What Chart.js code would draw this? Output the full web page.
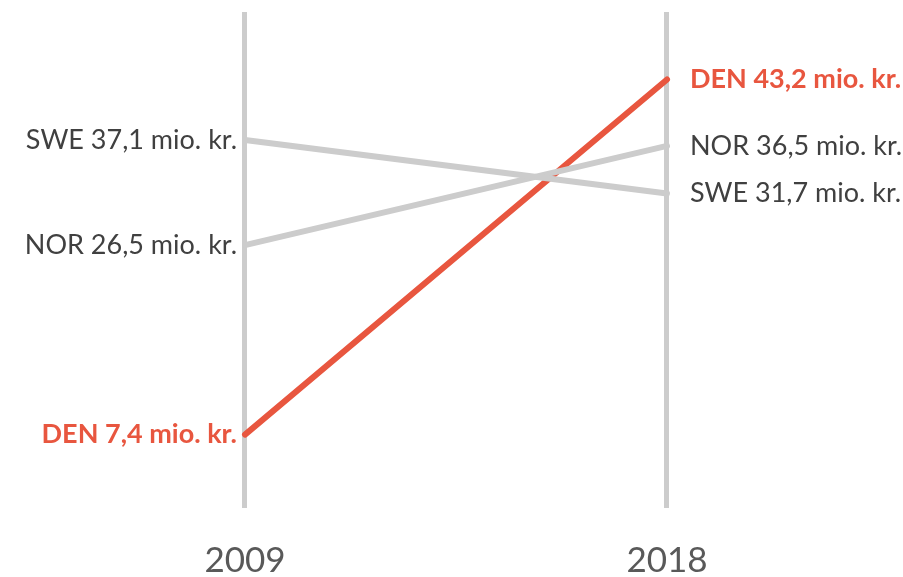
<!DOCTYPE html>
<html>
<head>
<meta charset="utf-8">
<script src="https://cdn.jsdelivr.net/npm/chart.js@4"></script>
<style>
  html, body { margin: 0; padding: 0; background: #fff; }
  #wrap { width: 903px; height: 577px; }
</style>
</head>
<body>
<div id="wrap"><canvas id="myChart"></canvas></div>
<script>
// data
const years = ["2009", "2018"];
const countries = ["SWE", "NOR", "DEN"];
const values2009 = [37.1, 26.5, 7.4];
const values2018 = [31.7, 36.5, 43.2];

const grey = "#CCCCCC";
const red = "#E8563F";
const textGrey = "#404040";

function fmt(v) {
  return v.toFixed(1).replace(".", ",");
}

// labels next to each end of the lines
const endLabels = {
  id: "endLabels",
  afterDatasetsDraw(chart) {
    const ctx = chart.ctx;
    ctx.save();
    ctx.textBaseline = "middle";
    chart.data.datasets.forEach((ds, i) => {
      const meta = chart.getDatasetMeta(i);
      const hl = countries[i] === "DEN";
      ctx.font = (hl ? "bold " : "") + "27px Lato";
      ctx.fillStyle = hl ? red : textGrey;
      const p0 = meta.data[0];
      const p1 = meta.data[1];
      ctx.textAlign = "right";
      ctx.fillText(countries[i] + " " + fmt(values2009[i]) + " mio. kr.", p0.x - 8, p0.y);
      ctx.textAlign = "left";
      ctx.fillText(countries[i] + " " + fmt(values2018[i]) + " mio. kr.", p1.x + 23, p1.y);
    });
    ctx.restore();
  },
};

const ctx = document.getElementById("myChart");
new Chart(ctx, {
  type: "line",
  data: {
    datasets: countries.map((c, i) => ({
      label: c,
      data: [
        { x: 0, y: values2009[i] },
        { x: 1, y: values2018[i] },
      ],
      borderColor: c === "DEN" ? red : grey,
      borderWidth: 6,
      borderCapStyle: "round",
      pointRadius: 0,
      tension: 0,
    })),
  },
  options: {
    responsive: true,
    maintainAspectRatio: false,
    animation: false,
    layout: { padding: { top: 12, left: 0, right: 0, bottom: 0 } },
    plugins: {
      legend: { display: false },
      tooltip: { enabled: false },
    },
    scales: {
      x: {
        type: "linear",
        min: -245 / 422,
        max: (903 - 245) / 422,
        afterBuildTicks: (axis) => {
          axis.ticks = years.map((y, i) => ({ value: i }));
        },
        afterFit: (axis) => {
          axis.height = 69;
        },
        ticks: {
          autoSkip: false,
          maxRotation: 0,
          padding: 32,
          color: "#595959",
          font: { family: "Lato", size: 35 },
          callback: (v, i) => years[i],
        },
        grid: {
          color: grey,
          lineWidth: 5,
          drawTicks: false,
        },
        border: { display: false },
      },
      y: {
        display: false,
        min: 0,
        max: 50,
      },
    },
  },
  plugins: [endLabels],
});
</script>
</body>
</html>
